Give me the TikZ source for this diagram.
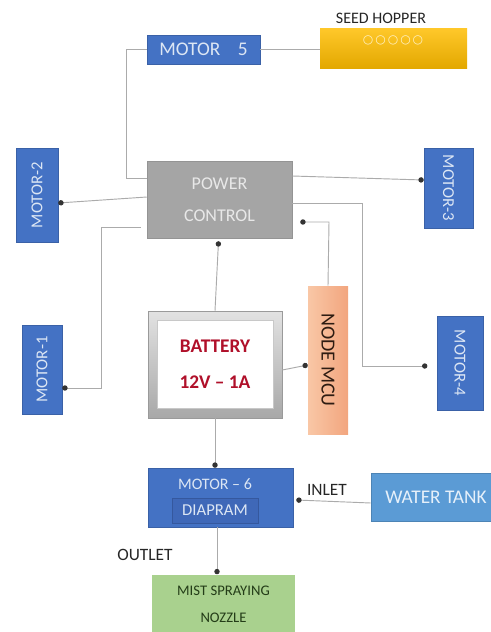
\documentclass[tikz,border=0pt]{standalone}
\usepackage{fontspec}
\setmainfont{Carlito}
\newfontfamily\symfont{DejaVu Sans}
\usepackage{graphicx}
\usetikzlibrary{arrows.meta,calc}
\definecolor{mblue}{HTML}{4472C4}
\definecolor{mtext}{HTML}{DCE6F4}
\definecolor{wtblue}{HTML}{5B9BD5}
\definecolor{pgray}{HTML}{A5A5A5}
\definecolor{wiregray}{HTML}{ABABAB}
\definecolor{darkred}{HTML}{B0102A}
\definecolor{nozgreen}{HTML}{A9D18E}
\definecolor{noztext}{HTML}{243D18}
\definecolor{labgray}{HTML}{262626}
\definecolor{hoptop}{HTML}{FFC82A}
\definecolor{hopbot}{HTML}{E3A800}
\definecolor{hopcirc}{HTML}{FFF2C8}
\definecolor{pctext}{HTML}{E8E8E8}
\definecolor{mcul}{HTML}{F9C7A6}
\definecolor{mcur}{HTML}{F2A57E}
\definecolor{mcutext}{HTML}{2E1C12}
\definecolor{battop}{HTML}{E2E2E2}
\definecolor{batbot}{HTML}{A8A8A8}
\definecolor{batdraw}{HTML}{9A9A9A}
\definecolor{batin}{HTML}{C8C8C8}
\definecolor{diapfill}{HTML}{3F68B8}
\definecolor{diapdraw}{HTML}{35589E}
\definecolor{wttext}{HTML}{E6F0FA}
\begin{document}
\begin{tikzpicture}[x=0.75pt,y=-0.75pt,
  box/.style={inner sep=0pt, align=center},
  motor/.style={box, fill=mblue, draw=mblue!85!black, line width=0.4pt, text=mtext},
  vmotor/.style={motor, font=\fontsize{12.5}{14}\selectfont},
  wire/.style={draw=wiregray, line width=0.7pt},
  dotend/.style={-{Circle[length=4pt,color=black!80]}},
  lab/.style={inner sep=0pt, text=labgray, font=\fontsize{13}{15}\selectfont}
]
\useasboundingbox (0,0) rectangle (491,632);

% Motor 5 and seed hopper
\node[motor, minimum width=84.75pt, minimum height=21.75pt, font=\fontsize{14.5}{16}\selectfont] (m5) at (203.5,49.5) {MOTOR\hspace{0.9em}5};
\node[box, minimum width=110.25pt, minimum height=30pt, top color=hoptop, bottom color=hopbot, draw=none] (hop) at (393.5,48) {};
\node[inner sep=0pt, text=hopcirc, font=\symfont\fontsize{9}{9}\selectfont] (hopc) at (393,40) {○\hspace{1.5pt}○\hspace{1.5pt}○\hspace{1.5pt}○\hspace{1.5pt}○};
\node[lab, font=\fontsize{12}{14}\selectfont] (hoplab) at (381,18) {SEED HOPPER};

% Power control
\node[box, fill=pgray, draw=pgray!90!black, line width=0.4pt, text=pctext, font=\fontsize{13.5}{24}\selectfont, minimum width=108.75pt, minimum height=57.75pt] (pc) at (219.5,199.5) {POWER\\CONTROL};

% side motors
\node[vmotor, minimum width=31.5pt, minimum height=70.5pt] (m2) at (37,195) {\rotatebox{90}{MOTOR-2}};
\node[vmotor, minimum width=36.75pt, minimum height=60pt] (m3) at (448.5,188) {\rotatebox{-90}{MOTOR-3}};
\node[vmotor, minimum width=30pt, minimum height=66.75pt] (m1) at (42,369.5) {\rotatebox{90}{MOTOR-1}};
\node[vmotor, minimum width=34.5pt, minimum height=70.5pt] (m4) at (460,363) {\rotatebox{-90}{MOTOR-4}};

% Node MCU
\node[box, minimum width=30pt, minimum height=111pt, left color=mcul, right color=mcur, draw=none, text=mcutext, font=\fontsize{15}{17}\selectfont] (mcu) at (328,360) {\rotatebox{-90}{NODE MCU}};

% Battery
\node[box, minimum width=100.5pt, minimum height=80.25pt, top color=battop, bottom color=batbot, draw=batdraw, line width=0.4pt] (batt) at (215,364.5) {};
\node[box, minimum width=87pt, minimum height=66pt, fill=white, draw=batin, line width=0.6pt, text=darkred, font=\bfseries\fontsize{14.5}{27}\selectfont] (battin) at (215,364) {BATTERY\\12V -- 1A};

% Motor 6
\node[motor, minimum width=108.75pt, minimum height=44.25pt] (m6) at (220.5,497.5) {};
\node[inner sep=0pt, text=mtext, font=\fontsize{12}{14}\selectfont] (m6t) at (215,484) {MOTOR -- 6};
\node[box, minimum width=64.5pt, minimum height=18.75pt, fill=diapfill, draw=diapdraw, line width=0.4pt, text=mtext, font=\fontsize{12.5}{14}\selectfont] (diap) at (215,510.5) {DIAPRAM};

% Water tank
\node[box, minimum width=97.5pt, minimum height=36pt, fill=wtblue, draw=wtblue!85!black, line width=0.4pt, text=wttext, font=\fontsize{14.5}{16}\selectfont] (wt) at (436,497) {WATER TANK};

% Nozzle
\node[box, minimum width=107.25pt, minimum height=45pt, fill=nozgreen, draw=none, text=noztext, font=\fontsize{11}{20}\selectfont] (noz) at (223.5,604.5) {MIST SPRAYING\\NOZZLE};

% labels
\node[lab] (inlet) at (327,490) {INLET};
\node[lab] (outlet) at (145,555) {OUTLET};

% connectors
\draw[wire] (m5.east) -- (m5.east -| hop.west);
\draw[wire] (m5.west) -- (126,49.5) -- (126,178) -- (pc.west |- 0,178);
\draw[wire,dotend] (pc.west |- 0,197) -- ($(m2.east)+(0,8)$);
\draw[wire,dotend] (pc.east |- 0,176) -- (m3.west |- 0,180);
\draw[wire,dotend] ($(pc.west |- 0,227)+(-6,0)$) -- (101,227) -- (101,388) -- (m1.east |- 0,388);
\draw[wire,dotend,shorten >=7pt] (pc.east |- 0,203) -- (362,203) -- (362,366) -- (m4.west |- 0,366);
\draw[wire,dotend] (mcu.north) -- (329,222) -- ($(pc.east |- 0,222)+(8,0)$);
\draw[wire,dotend] (batt.east |- 0,370) -- (mcu.west |- 0,365);
\draw[wire,dotend] (batt.north) -- ($(pc.south)+(-1,3)$);
\draw[wire,dotend] (batt.south) -- (batt.south |- m6.north);
\draw[wire,dotend] (wt.west |- 0,503) -- ($(m6.east |- 0,500)+(3,0)$);
\draw[wire,dotend] (m6.south -| 217,0) -- (noz.north -| 217,0);
\end{tikzpicture}
\end{document}
